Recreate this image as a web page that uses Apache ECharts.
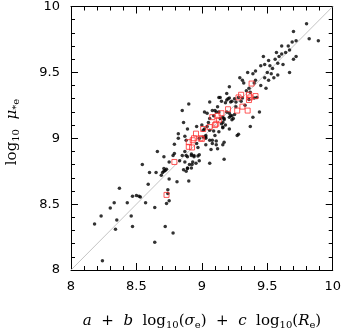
<!DOCTYPE html>
<html>
<head>
<meta charset="utf-8">
<script src="https://cdn.jsdelivr.net/npm/echarts@6/dist/echarts.min.js"></script>
<style>
  html, body { margin: 0; padding: 0; background: #fff; }
  #chart { width: 344px; height: 330px; }
</style>
</head>
<body>
<div id="chart"></div>
<script>
// axis range and tick labels
const axisMin = 8;
const axisMax = 10;
const tickStep = 0.5;
const tickLabels = ['8', '8.5', '9', '9.5', '10'];

// one-to-one reference line
const diagonal = [[8, 8], [10, 10]];

// black points: [predicted, log10 mu*e]
const blackPoints = [
  [9.80,9.87],[9.70,9.81],[9.82,9.755],[9.89,9.74],[9.72,9.74],[9.69,9.73],[9.61,9.70],[9.66,9.70],
  [9.67,9.67],[9.64,9.65],[9.61,9.64],[9.57,9.65],[9.59,9.62],[9.56,9.60],[9.72,9.62],[9.70,9.60],
  [9.51,9.59],[9.47,9.62],[9.58,9.57],[9.48,9.56],[9.52,9.55],[9.45,9.55],[9.54,9.53],[9.41,9.51],
  [9.50,9.50],[9.67,9.50],[9.35,9.50],[9.39,9.49],[9.58,9.48],[9.55,9.46],[9.48,9.46],[9.29,9.46],
  [9.31,9.44],[9.51,9.44],[9.32,9.42],[9.40,9.42],[9.45,9.40],[9.49,9.38],[9.21,9.39],[9.36,9.38],
  [9.34,9.36],[9.37,9.35],[9.42,9.31],[9.28,9.31],[9.14,9.31],[9.20,9.30],[9.23,9.28],[9.26,9.275],
  [9.30,9.28],[9.06,9.275],[9.15,9.28],[9.18,9.27],[8.90,9.26],[9.12,9.24],[8.85,9.21],[9.02,9.20],
  [9.10,9.21],[9.13,9.20],[9.44,9.20],[9.22,9.17],[9.25,9.18],[9.21,9.16],[9.09,9.17],[9.06,9.15],
  [9.17,9.15],[9.23,9.14],[8.86,9.12],[9.16,9.12],[9.18,9.10],[9.37,9.09],[8.96,9.09],[9.04,9.09],
  [9.16,9.08],[8.89,9.07],[9.21,9.07],[9.01,9.06],[9.06,9.06],[9.09,9.055],[9.13,9.05],[9.28,9.03],
  [8.82,9.035],[8.87,9.015],[9.03,9.00],
  [9.13,9.31],[9.19,9.29],[9.22,9.275],[9.21,9.305],[9.25,9.30],[9.31,9.305],[9.36,9.295],[9.40,9.305],
  [9.04,9.19],[9.08,9.21],[9.11,9.20],[9.16,9.16],[9.21,9.19],[9.23,9.17],[9.24,9.15],[9.17,9.14],
  [9.15,9.11],[9.16,9.085],[9.02,9.07],[8.98,9.00],[9.01,9.01],[9.03,9.02],[9.06,8.985],[9.08,8.96],
  [9.11,8.95],[9.17,8.97],[9.12,8.92],[9.27,9.02],[9.39,9.16],
  [8.82,9.00],[8.88,8.985],[9.03,9.01],[9.08,8.985],[9.11,8.98],[9.16,8.95],[8.79,8.955],[8.96,8.96],
  [9.03,8.95],[9.07,8.915],[8.87,8.90],[8.66,8.90],[8.89,8.86],[8.92,8.88],[8.94,8.87],[8.98,8.875],
  [8.98,8.83],[8.79,8.885],[8.78,8.87],[8.71,8.86],[9.17,8.84],[8.75,8.82],[8.83,8.83],[8.87,8.82],
  [8.545,8.80],[8.925,8.80],[8.89,8.775],[8.86,8.76],[8.88,8.75],[8.73,8.765],[8.71,8.75],[8.60,8.74],
  [8.65,8.74],[8.69,8.72],[8.75,8.69],[8.81,8.67],[8.90,8.675],[8.59,8.65],[8.37,8.62],[8.74,8.61],
  [8.74,8.58],[8.50,8.565],[8.52,8.56],[8.53,8.555],[8.47,8.56],[8.75,8.525],[8.33,8.51],[8.43,8.51],
  [8.57,8.51],[8.73,8.505],[8.30,8.47],[8.64,8.475],[8.23,8.41],[8.46,8.41],[8.35,8.38],[8.18,8.35],
  [8.47,8.33],[8.72,8.33],[8.34,8.31],[8.78,8.28],[8.64,8.21],[8.24,8.07],
  [8.88,8.87],[8.92,8.87],[8.94,8.86],[8.97,8.865],[8.93,8.82],[8.955,8.81],[8.905,8.80],[8.89,8.77],
  [8.92,8.775],[9.06,8.81],[8.70,8.74],[8.72,8.755],[8.71,8.77],[8.85,8.87],
  [9.33,9.25],[9.26,9.24],[9.19,9.20],[9.14,9.15],[9.05,9.12],[9.00,9.10],[9.10,9.02],[8.97,8.93],
  [9.19,9.34],[9.41,9.44],[9.53,9.49],[9.62,9.56]
];

// red points (open squares)
const redPoints = [
  [9.38,9.415],[9.30,9.33],[9.37,9.31],[9.31,9.24],[9.27,9.21],[9.20,9.22],[9.15,9.19],[9.12,9.17],
  [9.13,9.14],[9.11,9.11],[9.10,9.10],[9.06,9.085],[9.01,9.07],[8.99,9.00],[8.93,8.985],[8.90,8.97],
  [8.90,8.935],[8.925,8.93],[8.955,9.035],[8.79,8.82],[8.73,8.57],[9.41,9.32],[9.08,9.16],[9.36,9.33],
  [9.36,9.29],[9.35,9.21],[9.28,9.31],[9.00,8.995],[8.94,9.00]
];

const font = 'DejaVu Sans';

function makeAxis(pos, showLabel, margin) {
  return {
    type: 'value', position: pos, min: axisMin, max: axisMax, interval: tickStep,
    axisLine: { show: true, onZero: false, lineStyle: { color: '#000', width: 1 } },
    axisTick: { show: true, inside: true, length: 7, lineStyle: { color: '#000' } },
    minorTick: { show: true, splitNumber: 5, length: 4, lineStyle: { color: '#000' } },
    splitLine: { show: false },
    axisLabel: {
      show: showLabel, color: '#000', fontFamily: font, fontSize: 13, margin: margin,
      formatter: v => tickLabels[Math.round((v - axisMin) / tickStep)]
    }
  };
}

const chart = echarts.init(document.getElementById('chart'), null, { renderer: 'canvas' });

const titleRich = {
  i: { fontFamily: 'DejaVu Serif', fontStyle: 'italic', fontSize: 15 },
  s: { fontFamily: 'DejaVu Serif', fontSize: 10, padding: [8, 0, 0, 0] }
};

const option = {
  animation: false,
  grid: { left: 71, right: 10, top: 6, bottom: 60 },
  xAxis: [makeAxis('bottom', true, 10), makeAxis('top', false, 10)],
  yAxis: [makeAxis('left', true, 11), makeAxis('right', false, 11)],
  series: [
    {
      type: 'line', data: diagonal, symbol: 'none', silent: true, z: 1,
      lineStyle: { color: '#c4c4c4', width: 1 }
    },
    {
      type: 'scatter', data: blackPoints, symbol: 'circle', symbolSize: 3.5, z: 2,
      itemStyle: { color: '#000' }
    },
    {
      type: 'scatter', data: redPoints, symbol: 'rect', symbolSize: 5, z: 3,
      itemStyle: { color: 'rgba(0,0,0,0)', borderColor: '#ff3030', borderWidth: 1 }
    }
  ],
  graphic: [
    {
      type: 'text', x: 202, y: 321,
      style: {
        text: '{i|a}  +  {i|b}  log{s|10}({i|σ}{s|e})  +  {i|c}  log{s|10}({i|R}{s|e})',
        font: '15px "DejaVu Serif"', fill: '#000', align: 'center', verticalAlign: 'middle',
        rich: titleRich
      }
    },
    {
      type: 'text', x: 12, y: 132, rotation: Math.PI / 2,
      style: {
        text: 'log{s|10}  {i|μ}{s|*e}',
        font: '15px "DejaVu Serif"', fill: '#000', align: 'center', verticalAlign: 'middle',
        rich: titleRich
      }
    }
  ]
};

chart.setOption(option);
</script>
</body>
</html>
